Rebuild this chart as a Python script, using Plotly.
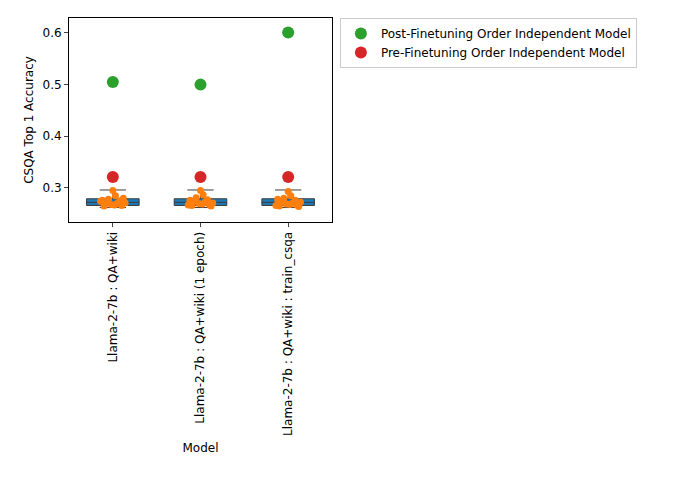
import plotly.graph_objects as go

models = ["Llama-2-7b : QA+wiki", "Llama-2-7b : QA+wiki (1 epoch)", "Llama-2-7b : QA+wiki : train_csqa"]
post_ft = [0.505, 0.500, 0.601]
pre_ft = [0.321, 0.321, 0.321]

# box stats
q1 = [0.266, 0.266, 0.266]
med = [0.272, 0.272, 0.272]
q3 = [0.279, 0.279, 0.279]
low = [0.262, 0.262, 0.262]
high = [0.296, 0.296, 0.296]

# individual order permutations (orange strip)
strip_vals = [
    [0.295, 0.285, 0.278, 0.275, 0.272, 0.270, 0.268, 0.266, 0.265, 0.280, 0.276, 0.271, 0.267, 0.274],
    [0.295, 0.287, 0.281, 0.277, 0.274, 0.272, 0.270, 0.268, 0.266, 0.265, 0.276, 0.271, 0.269, 0.267],
    [0.293, 0.285, 0.280, 0.276, 0.273, 0.271, 0.269, 0.267, 0.265, 0.264, 0.278, 0.272, 0.268, 0.266],
]
jitter = [0.0, 0.03, -0.05, 0.08, -0.08, 0.05, -0.02, 0.1, -0.1, 0.12, -0.12, 0.14, 0.02, -0.14]

fig = go.Figure()
for i, m in enumerate(models):
    fig.add_trace(go.Box(
        x=[i], q1=[q1[i]], median=[med[i]], q3=[q3[i]],
        lowerfence=[low[i]], upperfence=[high[i]],
        fillcolor="#1f77b4", line=dict(color="#3d3d3d", width=1),
        width=0.6, whiskerwidth=0.5, showlegend=False, hoverinfo="skip"))

for i, m in enumerate(models):
    fig.add_trace(go.Scatter(
        x=[i + j for j in jitter], y=strip_vals[i], mode="markers",
        marker=dict(color="#ff7f0e", size=7), showlegend=False))

fig.add_trace(go.Scatter(x=list(range(3)), y=post_ft, mode="markers",
                         marker=dict(color="#2ca02c", size=12),
                         name="Post-Finetuning Order Independent Model"))
fig.add_trace(go.Scatter(x=list(range(3)), y=pre_ft, mode="markers",
                         marker=dict(color="#d62728", size=12),
                         name="Pre-Finetuning Order Independent Model"))

fig.update_layout(
    width=681, height=490, plot_bgcolor="white", paper_bgcolor="white",
    margin=dict(l=61, r=357, t=10, b=276),
    font=dict(family="DejaVu Sans", size=12, color="black"),
    legend=dict(x=1.03, y=1.0, xanchor="left", yanchor="top",
                bordercolor="#cccccc", borderwidth=1, font=dict(size=12)),
)
fig.update_xaxes(
    tickmode="array", tickvals=list(range(3)), ticktext=models, tickangle=-90,
    range=[-0.5, 2.5], showline=True, linecolor="black", mirror=True,
    ticks="outside", ticklen=4, showgrid=False, zeroline=False, automargin=False,
    title=dict(text="Model", font=dict(size=12), standoff=8))
fig.update_yaxes(
    range=[0.234, 0.629], tickvals=[0.3, 0.4, 0.5, 0.6],
    showline=True, linecolor="black", mirror=True, ticks="outside", ticklen=4,
    showgrid=False, zeroline=False, automargin=False,
    title=dict(text="CSQA Top 1 Accuracy", font=dict(size=12), standoff=6))

fig.write_html("out.html")
